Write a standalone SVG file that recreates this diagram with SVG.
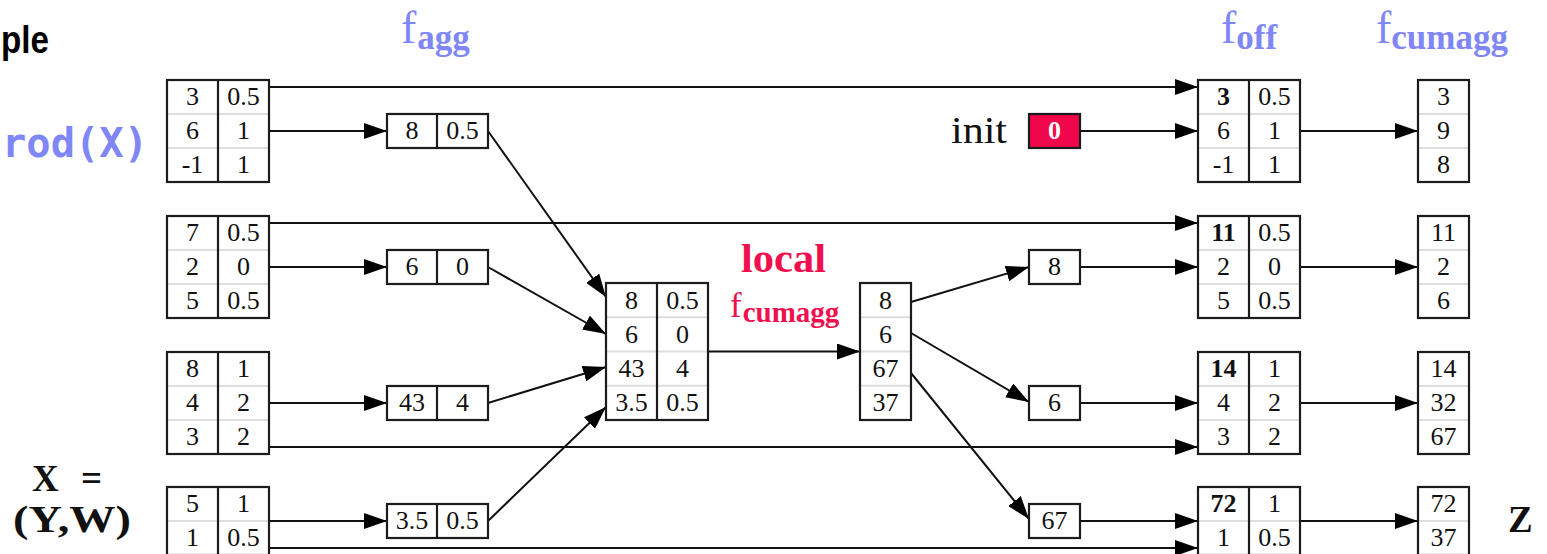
<svg xmlns="http://www.w3.org/2000/svg" width="1547" height="554" viewBox="0 0 1547 554">
  <style>
    .bg { fill: #ffffff; stroke: none; }
    .red { fill: #f0064a; stroke: none; }
    .frame { fill: none; stroke: #1c1c1c; stroke-width: 2.2; }
    .sep { stroke: #dedede; stroke-width: 2; }
    .div { stroke: #1c1c1c; stroke-width: 2.2; }
    .num { font-family: "Liberation Serif", "Times New Roman", serif; font-size: 26px; text-anchor: middle; fill: #111111; }
    .bold { font-weight: bold; }
    .white { fill: #ffffff; font-weight: bold; }
    .edge { stroke: #111111; stroke-width: 2; fill: none; marker-end: url(#ah); }
    .blue { font-family: "Liberation Serif", "Times New Roman", serif; fill: #7f87f6; }
    .pink { font-family: "Liberation Serif", "Times New Roman", serif; fill: #f0104f; }
    .math { font-family: "Liberation Serif", "Times New Roman", serif; font-weight: bold; fill: #111111; }
  </style>
  <defs>
    <marker id="ah" markerUnits="userSpaceOnUse" markerWidth="24" markerHeight="16" refX="23" refY="8" orient="auto">
      <path d="M0,0 L23,8 L0,16 z" fill="#000000"/>
    </marker>
  </defs>

  <!-- headings -->
  <g id="headings">
    <text x="1" y="53" font-family="'Liberation Sans', Arial, sans-serif" font-weight="bold" font-size="39" fill="#000000" textLength="48" lengthAdjust="spacingAndGlyphs">ple</text>
    <text x="2" y="157" font-family="'DejaVu Sans Mono', 'Liberation Mono', monospace" font-weight="bold" font-size="41" fill="#7f87f6" textLength="146" lengthAdjust="spacingAndGlyphs">rod(X)</text>
    <text class="blue" x="401" y="43"><tspan font-size="46">f</tspan><tspan font-size="35" font-weight="bold" dx="1" dy="6">agg</tspan></text>
    <text class="blue" x="1221" y="43"><tspan font-size="46">f</tspan><tspan font-size="35" font-weight="bold" dy="6">off</tspan></text>
    <text class="blue" x="1376" y="43"><tspan font-size="46">f</tspan><tspan font-size="35" font-weight="bold" dy="6">cumagg</tspan></text>
    <text class="pink" x="741" y="272" font-size="40" font-weight="bold" textLength="85" lengthAdjust="spacingAndGlyphs">local</text>
    <text class="pink" x="730" y="317"><tspan font-size="35">f</tspan><tspan font-size="29" font-weight="bold" dx="1" dy="5">cumagg</tspan></text>
    <text class="math" x="32" y="491" font-size="37">X</text>
    <text class="math" x="81" y="491" font-size="37">=</text>
    <text class="math" x="13" y="532" font-size="37" textLength="118" lengthAdjust="spacingAndGlyphs">(Y,W)</text>
    <text class="math" x="1508" y="532" font-size="37">Z</text>
    <text x="951" y="143" font-family="'Liberation Serif', 'Times New Roman', serif" font-size="38" fill="#111111" textLength="56" lengthAdjust="spacingAndGlyphs">init</text>
  </g>

  <!-- connectors -->
  <g id="connectors">
    <!-- bypass lines from the input partitions to the offset tables -->
    <line class="edge" x1="269" y1="87" x2="1198" y2="87"/>
    <line class="edge" x1="269" y1="223" x2="1198" y2="223"/>
    <line class="edge" x1="269" y1="447" x2="1198" y2="447"/>
    <line class="edge" x1="269" y1="548" x2="1198" y2="548"/>
    <!-- partitions to partial aggregates -->
    <line class="edge" x1="269" y1="131" x2="387" y2="131"/>
    <line class="edge" x1="269" y1="267" x2="387" y2="267"/>
    <line class="edge" x1="269" y1="403" x2="387" y2="403"/>
    <line class="edge" x1="269" y1="521" x2="387" y2="521"/>
    <!-- partial aggregates to the gathered table -->
    <line class="edge" x1="488" y1="131" x2="606" y2="297"/>
    <line class="edge" x1="488" y1="267" x2="606" y2="334"/>
    <line class="edge" x1="488" y1="403" x2="606" y2="367"/>
    <line class="edge" x1="488" y1="521" x2="606" y2="407"/>
    <!-- local cumulative aggregation -->
    <line class="edge" x1="708" y1="351.5" x2="860" y2="351.5"/>
    <!-- offsets scattered back -->
    <line class="edge" x1="911" y1="302" x2="1029" y2="267"/>
    <line class="edge" x1="911" y1="333" x2="1029" y2="402"/>
    <line class="edge" x1="911" y1="373" x2="1029" y2="519"/>
    <!-- offsets into the offset tables -->
    <line class="edge" x1="1080" y1="131" x2="1198" y2="131"/>
    <line class="edge" x1="1080" y1="267" x2="1198" y2="267"/>
    <line class="edge" x1="1080" y1="403" x2="1198" y2="403"/>
    <line class="edge" x1="1080" y1="521" x2="1198" y2="521"/>
    <!-- offset tables to final cumulative results -->
    <line class="edge" x1="1300" y1="131" x2="1418" y2="131"/>
    <line class="edge" x1="1300" y1="267" x2="1418" y2="267"/>
    <line class="edge" x1="1300" y1="403" x2="1418" y2="403"/>
    <line class="edge" x1="1300" y1="521" x2="1418" y2="521"/>
  </g>

  <!-- input partitions -->
  <g id="part1">
    <rect class="bg" x="167" y="80" width="102" height="102"/>
    <line class="sep" x1="167" y1="114" x2="269" y2="114"/>
    <line class="sep" x1="167" y1="148" x2="269" y2="148"/>
    <line class="div" x1="218" y1="80" x2="218" y2="182"/>
    <rect class="frame" x="167" y="80" width="102" height="102"/>
    <text class="num" x="192.5" y="105">3</text><text class="num" x="243.5" y="105">0.5</text>
    <text class="num" x="192.5" y="139">6</text><text class="num" x="243.5" y="139">1</text>
    <text class="num" x="192.5" y="173">-1</text><text class="num" x="243.5" y="173">1</text>
  </g>
  <g id="part2">
    <rect class="bg" x="167" y="216" width="102" height="102"/>
    <line class="sep" x1="167" y1="250" x2="269" y2="250"/>
    <line class="sep" x1="167" y1="284" x2="269" y2="284"/>
    <line class="div" x1="218" y1="216" x2="218" y2="318"/>
    <rect class="frame" x="167" y="216" width="102" height="102"/>
    <text class="num" x="192.5" y="241">7</text><text class="num" x="243.5" y="241">0.5</text>
    <text class="num" x="192.5" y="275">2</text><text class="num" x="243.5" y="275">0</text>
    <text class="num" x="192.5" y="309">5</text><text class="num" x="243.5" y="309">0.5</text>
  </g>
  <g id="part3">
    <rect class="bg" x="167" y="352" width="102" height="102"/>
    <line class="sep" x1="167" y1="386" x2="269" y2="386"/>
    <line class="sep" x1="167" y1="420" x2="269" y2="420"/>
    <line class="div" x1="218" y1="352" x2="218" y2="454"/>
    <rect class="frame" x="167" y="352" width="102" height="102"/>
    <text class="num" x="192.5" y="377">8</text><text class="num" x="243.5" y="377">1</text>
    <text class="num" x="192.5" y="411">4</text><text class="num" x="243.5" y="411">2</text>
    <text class="num" x="192.5" y="445">3</text><text class="num" x="243.5" y="445">2</text>
  </g>
  <g id="part4">
    <rect class="bg" x="167" y="487" width="102" height="68"/>
    <line class="sep" x1="167" y1="521" x2="269" y2="521"/>
    <line class="div" x1="218" y1="487" x2="218" y2="555"/>
    <rect class="frame" x="167" y="487" width="102" height="68"/>
    <text class="num" x="192.5" y="512">5</text><text class="num" x="243.5" y="512">1</text>
    <text class="num" x="192.5" y="546">1</text><text class="num" x="243.5" y="546">0.5</text>
  </g>

  <!-- partial aggregates -->
  <g id="agg1">
    <rect class="bg" x="387" y="114" width="101" height="34"/>
    <line class="div" x1="437" y1="114" x2="437" y2="148"/>
    <rect class="frame" x="387" y="114" width="101" height="34"/>
    <text class="num" x="412" y="139">8</text><text class="num" x="462.5" y="139">0.5</text>
  </g>
  <g id="agg2">
    <rect class="bg" x="387" y="250" width="101" height="34"/>
    <line class="div" x1="437" y1="250" x2="437" y2="284"/>
    <rect class="frame" x="387" y="250" width="101" height="34"/>
    <text class="num" x="412" y="275">6</text><text class="num" x="462.5" y="275">0</text>
  </g>
  <g id="agg3">
    <rect class="bg" x="387" y="386" width="101" height="34"/>
    <line class="div" x1="437" y1="386" x2="437" y2="420"/>
    <rect class="frame" x="387" y="386" width="101" height="34"/>
    <text class="num" x="412" y="411">43</text><text class="num" x="462.5" y="411">4</text>
  </g>
  <g id="agg4">
    <rect class="bg" x="387" y="504" width="101" height="34"/>
    <line class="div" x1="437" y1="504" x2="437" y2="538"/>
    <rect class="frame" x="387" y="504" width="101" height="34"/>
    <text class="num" x="412" y="529">3.5</text><text class="num" x="462.5" y="529">0.5</text>
  </g>

  <!-- gathered partial aggregates -->
  <g id="gathered">
    <rect class="bg" x="606" y="283" width="102" height="137"/>
    <line class="sep" x1="606" y1="317.25" x2="708" y2="317.25"/>
    <line class="sep" x1="606" y1="351.5" x2="708" y2="351.5"/>
    <line class="sep" x1="606" y1="385.75" x2="708" y2="385.75"/>
    <line class="div" x1="657" y1="283" x2="657" y2="420"/>
    <rect class="frame" x="606" y="283" width="102" height="137"/>
    <text class="num" x="631.5" y="308.5">8</text><text class="num" x="682.5" y="308.5">0.5</text>
    <text class="num" x="631.5" y="342.75">6</text><text class="num" x="682.5" y="342.75">0</text>
    <text class="num" x="631.5" y="377">43</text><text class="num" x="682.5" y="377">4</text>
    <text class="num" x="631.5" y="411.25">3.5</text><text class="num" x="682.5" y="411.25">0.5</text>
  </g>

  <!-- local cumulative result -->
  <g id="localcum">
    <rect class="bg" x="860" y="283" width="51" height="137"/>
    <line class="sep" x1="860" y1="317.25" x2="911" y2="317.25"/>
    <line class="sep" x1="860" y1="351.5" x2="911" y2="351.5"/>
    <line class="sep" x1="860" y1="385.75" x2="911" y2="385.75"/>
    <rect class="frame" x="860" y="283" width="51" height="137"/>
    <text class="num" x="885.5" y="308.5">8</text>
    <text class="num" x="885.5" y="342.75">6</text>
    <text class="num" x="885.5" y="377">67</text>
    <text class="num" x="885.5" y="411.25">37</text>
  </g>

  <!-- initial value and offsets -->
  <g id="init">
    <rect class="red" x="1029" y="114" width="51" height="34"/>
    <rect class="frame" x="1029" y="114" width="51" height="34"/>
    <text class="num white" x="1054.5" y="139">0</text>
  </g>
  <g id="off2">
    <rect class="bg" x="1029" y="250" width="51" height="34"/>
    <rect class="frame" x="1029" y="250" width="51" height="34"/>
    <text class="num" x="1054.5" y="275">8</text>
  </g>
  <g id="off3">
    <rect class="bg" x="1029" y="386" width="51" height="34"/>
    <rect class="frame" x="1029" y="386" width="51" height="34"/>
    <text class="num" x="1054.5" y="411">6</text>
  </g>
  <g id="off4">
    <rect class="bg" x="1029" y="504" width="51" height="34"/>
    <rect class="frame" x="1029" y="504" width="51" height="34"/>
    <text class="num" x="1054.5" y="529">67</text>
  </g>

  <!-- offset-adjusted partitions -->
  <g id="foff1">
    <rect class="bg" x="1198" y="80" width="102" height="102"/>
    <line class="sep" x1="1198" y1="114" x2="1300" y2="114"/>
    <line class="sep" x1="1198" y1="148" x2="1300" y2="148"/>
    <line class="div" x1="1249" y1="80" x2="1249" y2="182"/>
    <rect class="frame" x="1198" y="80" width="102" height="102"/>
    <text class="num bold" x="1223.5" y="105">3</text><text class="num" x="1274.5" y="105">0.5</text>
    <text class="num" x="1223.5" y="139">6</text><text class="num" x="1274.5" y="139">1</text>
    <text class="num" x="1223.5" y="173">-1</text><text class="num" x="1274.5" y="173">1</text>
  </g>
  <g id="foff2">
    <rect class="bg" x="1198" y="216" width="102" height="102"/>
    <line class="sep" x1="1198" y1="250" x2="1300" y2="250"/>
    <line class="sep" x1="1198" y1="284" x2="1300" y2="284"/>
    <line class="div" x1="1249" y1="216" x2="1249" y2="318"/>
    <rect class="frame" x="1198" y="216" width="102" height="102"/>
    <text class="num bold" x="1223.5" y="241">11</text><text class="num" x="1274.5" y="241">0.5</text>
    <text class="num" x="1223.5" y="275">2</text><text class="num" x="1274.5" y="275">0</text>
    <text class="num" x="1223.5" y="309">5</text><text class="num" x="1274.5" y="309">0.5</text>
  </g>
  <g id="foff3">
    <rect class="bg" x="1198" y="352" width="102" height="102"/>
    <line class="sep" x1="1198" y1="386" x2="1300" y2="386"/>
    <line class="sep" x1="1198" y1="420" x2="1300" y2="420"/>
    <line class="div" x1="1249" y1="352" x2="1249" y2="454"/>
    <rect class="frame" x="1198" y="352" width="102" height="102"/>
    <text class="num bold" x="1223.5" y="377">14</text><text class="num" x="1274.5" y="377">1</text>
    <text class="num" x="1223.5" y="411">4</text><text class="num" x="1274.5" y="411">2</text>
    <text class="num" x="1223.5" y="445">3</text><text class="num" x="1274.5" y="445">2</text>
  </g>
  <g id="foff4">
    <rect class="bg" x="1198" y="487" width="102" height="68"/>
    <line class="sep" x1="1198" y1="521" x2="1300" y2="521"/>
    <line class="div" x1="1249" y1="487" x2="1249" y2="555"/>
    <rect class="frame" x="1198" y="487" width="102" height="68"/>
    <text class="num bold" x="1223.5" y="512">72</text><text class="num" x="1274.5" y="512">1</text>
    <text class="num" x="1223.5" y="546">1</text><text class="num" x="1274.5" y="546">0.5</text>
  </g>

  <!-- final cumulative results -->
  <g id="cum1">
    <rect class="bg" x="1418" y="80" width="51" height="102"/>
    <line class="sep" x1="1418" y1="114" x2="1469" y2="114"/>
    <line class="sep" x1="1418" y1="148" x2="1469" y2="148"/>
    <rect class="frame" x="1418" y="80" width="51" height="102"/>
    <text class="num" x="1443.5" y="105">3</text>
    <text class="num" x="1443.5" y="139">9</text>
    <text class="num" x="1443.5" y="173">8</text>
  </g>
  <g id="cum2">
    <rect class="bg" x="1418" y="216" width="51" height="102"/>
    <line class="sep" x1="1418" y1="250" x2="1469" y2="250"/>
    <line class="sep" x1="1418" y1="284" x2="1469" y2="284"/>
    <rect class="frame" x="1418" y="216" width="51" height="102"/>
    <text class="num" x="1443.5" y="241">11</text>
    <text class="num" x="1443.5" y="275">2</text>
    <text class="num" x="1443.5" y="309">6</text>
  </g>
  <g id="cum3">
    <rect class="bg" x="1418" y="352" width="51" height="102"/>
    <line class="sep" x1="1418" y1="386" x2="1469" y2="386"/>
    <line class="sep" x1="1418" y1="420" x2="1469" y2="420"/>
    <rect class="frame" x="1418" y="352" width="51" height="102"/>
    <text class="num" x="1443.5" y="377">14</text>
    <text class="num" x="1443.5" y="411">32</text>
    <text class="num" x="1443.5" y="445">67</text>
  </g>
  <g id="cum4">
    <rect class="bg" x="1418" y="487" width="51" height="68"/>
    <line class="sep" x1="1418" y1="521" x2="1469" y2="521"/>
    <rect class="frame" x="1418" y="487" width="51" height="68"/>
    <text class="num" x="1443.5" y="512">72</text>
    <text class="num" x="1443.5" y="546">37</text>
  </g>
</svg>
